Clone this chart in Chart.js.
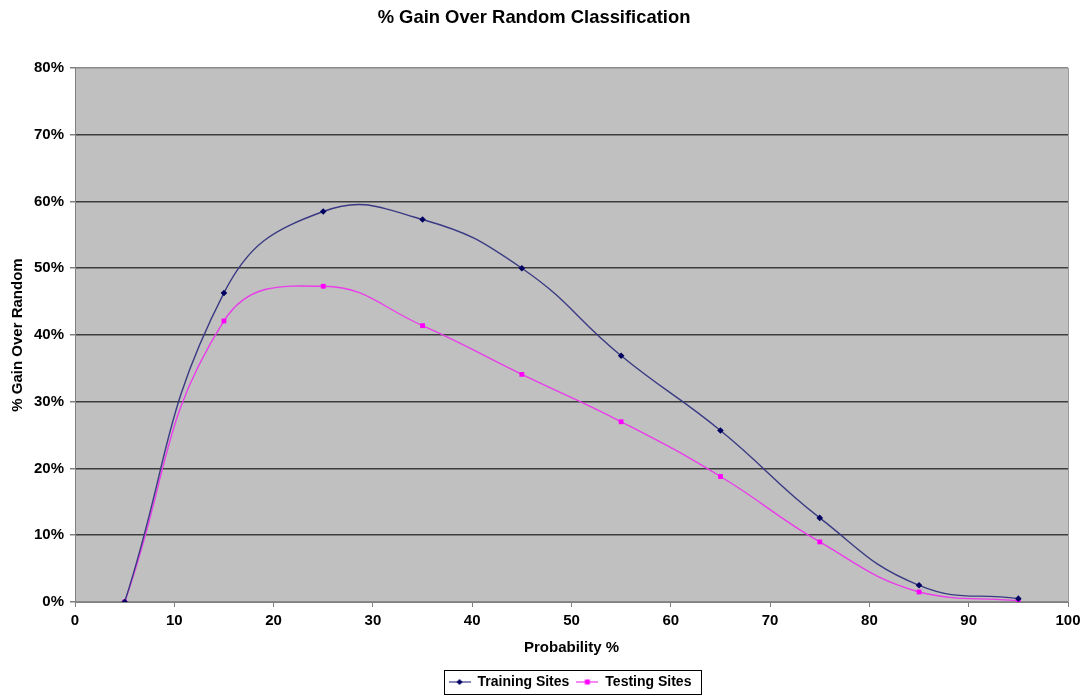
<!DOCTYPE html>
<html lang="en">
<head>
    <meta charset="UTF-8">
    <title>% Gain Over Random Classification</title>
    <style>
        body { margin: 0; background: #fff; overflow: hidden; }
        #wrap { width: 1086px; height: 695px; }
        canvas { display: block; }
    </style>
</head>
<body>
<div id="wrap"><canvas id="gainChart" width="1086" height="695"></canvas></div>

<script src="https://cdn.jsdelivr.net/npm/chart.js"></script>
<script>
    // probability bins (x) and % gain for each site group
    const probability = [5, 15, 25, 35, 45, 55, 65, 75, 85, 95];
    const trainingGain = [0, 46.3, 58.5, 57.3, 50.0, 36.9, 25.7, 12.6, 2.5, 0.5];
    const testingGain = [0, 42.1, 47.3, 41.4, 34.1, 27.0, 18.8, 9.0, 1.5, 0.2];
    const xTicks = [0, 10, 20, 30, 40, 50, 60, 70, 80, 90, 100];
    const yTicks = [0, 10, 20, 30, 40, 50, 60, 70, 80];

    const FONT = "'Liberation Sans', Arial, Helvetica, sans-serif";
    const TRAIN_LINE = '#3a3a84';
    const TRAIN_MARK = '#000060';
    const TEST_LINE = '#ea3cea';
    const TEST_MARK = '#ff00ff';

    function toPoints(values) {
        return probability.map((p, i) => ({ x: p, y: values[i] }));
    }

    // small "line with marker" swatch for the legend
    function legendSwatch(lineColor, markColor, diamond) {
        const c = document.createElement('canvas');
        c.width = 22; c.height = 12;
        const g = c.getContext('2d');
        g.strokeStyle = lineColor;
        g.lineWidth = 1.2;
        g.beginPath(); g.moveTo(0, 6); g.lineTo(22, 6); g.stroke();
        g.fillStyle = markColor;
        if (diamond) {
            g.beginPath(); g.moveTo(11, 3); g.lineTo(14, 6); g.lineTo(11, 9); g.lineTo(8, 6); g.closePath(); g.fill();
        } else {
            g.fillRect(8.5, 3.5, 5, 5);
        }
        return c;
    }

    // grey plot area, legend centred under the plot, frame around the legend
    const chartDecor = {
        id: 'chartDecor',
        afterUpdate(chart) {
            const lg = chart.legend;
            if (!lg || !lg.legendHitBoxes.length) return;
            const a = chart.chartArea;
            const boxes = lg.legendHitBoxes;
            const l = Math.min(...boxes.map(b => b.left));
            const r = Math.max(...boxes.map(b => b.left + b.width));
            const dx = Math.round((a.left + a.right) / 2 - (l + r) / 2 - 2);
            const dy = 4;
            lg.left += dx; lg.right += dx;
            lg.top += dy; lg.bottom += dy;
            boxes.forEach(b => { b.left += dx; b.top += dy; });
        },
        beforeDraw(chart) {
            const { ctx, chartArea: a } = chart;
            ctx.save();
            ctx.fillStyle = '#c0c0c0';
            ctx.fillRect(a.left, a.top, a.right - a.left, a.bottom - a.top);
            ctx.strokeStyle = '#9a9a9a';
            ctx.lineWidth = 1;
            ctx.beginPath();
            ctx.moveTo(a.right + 0.5, a.top);
            ctx.lineTo(a.right + 0.5, a.bottom);
            ctx.stroke();
            ctx.restore();
        },
        afterDraw(chart) {
            const boxes = chart.legend && chart.legend.legendHitBoxes;
            if (!boxes || !boxes.length) return;
            const left = Math.min(...boxes.map(b => b.left)) - 5;
            const right = Math.max(...boxes.map(b => b.left + b.width)) + 9;
            const top = Math.min(...boxes.map(b => b.top)) - 5;
            const bottom = Math.max(...boxes.map(b => b.top + b.height)) + 5;
            const ctx = chart.ctx;
            ctx.save();
            ctx.strokeStyle = '#000';
            ctx.lineWidth = 1;
            ctx.strokeRect(Math.round(left) + 0.5, Math.round(top) + 0.5, Math.round(right - left), Math.round(bottom - top));
            ctx.restore();
        }
    };

    const ctx = document.getElementById('gainChart').getContext('2d');
    new Chart(ctx, {
        type: 'line',
        data: {
            datasets: [{
                label: 'Training Sites',
                data: toPoints(trainingGain),
                borderColor: TRAIN_LINE,
                borderWidth: 1.4,
                backgroundColor: TRAIN_MARK,
                pointStyle: 'rectRot',
                pointRadius: 3.3,
                pointBorderWidth: 0,
                pointBackgroundColor: TRAIN_MARK,
                tension: 0.45,
                fill: false
            }, {
                label: 'Testing Sites',
                data: toPoints(testingGain),
                borderColor: TEST_LINE,
                borderWidth: 1.4,
                backgroundColor: TEST_MARK,
                pointStyle: 'rect',
                pointRadius: 3.4,
                pointBorderWidth: 0,
                pointBackgroundColor: TEST_MARK,
                tension: 0.45,
                fill: false
            }]
        },
        options: {
            responsive: false,
            animation: false,
            devicePixelRatio: 1,
            layout: { padding: { left: 0, right: 18, top: 0, bottom: 0 } },
            plugins: {
                title: {
                    display: true,
                    text: '% Gain Over Random Classification',
                    color: '#000',
                    font: { family: FONT, size: 18.4, weight: 'bold' },
                    padding: { top: 7, bottom: 38.9 }
                },
                legend: {
                    position: 'bottom',
                    labels: {
                        color: '#000',
                        font: { family: FONT, size: 14, weight: 'bold' },
                        usePointStyle: true,
                        pointStyleWidth: 22,
                        padding: 7,
                        generateLabels(chart) {
                            return chart.data.datasets.map((ds, i) => ({
                                text: ds.label,
                                datasetIndex: i,
                                pointStyle: legendSwatch(ds.borderColor, ds.pointBackgroundColor, i === 0),
                                fillStyle: ds.pointBackgroundColor,
                                strokeStyle: ds.borderColor,
                                lineWidth: 0,
                                fontColor: '#000',
                                hidden: false
                            }));
                        }
                    }
                },
                tooltip: { enabled: false }
            },
            scales: {
                x: {
                    type: 'linear',
                    min: 0,
                    max: 100,
                    afterFit(scale) { scale.height = 62; },
                    afterBuildTicks(scale) { scale.ticks = xTicks.map(v => ({ value: v })); },
                    ticks: {
                        color: '#000',
                        font: { family: FONT, size: 15, weight: 'bold' },
                        padding: 5,
                        maxRotation: 0
                    },
                    grid: {
                        drawOnChartArea: false,
                        drawTicks: true,
                        tickLength: 5,
                        color: '#808080'
                    },
                    border: { display: true, color: '#808080', width: 1 },
                    title: {
                        display: true,
                        text: 'Probability %',
                        color: '#000',
                        font: { family: FONT, size: 15, weight: 'bold' },
                        padding: { top: 0, bottom: 7 }
                    }
                },
                y: {
                    min: 0,
                    max: 80,
                    afterFit(scale) { scale.width = 75; },
                    afterBuildTicks(scale) { scale.ticks = yTicks.map(v => ({ value: v })); },
                    ticks: {
                        color: '#000',
                        font: { family: FONT, size: 15, weight: 'bold' },
                        padding: 6,
                        callback: v => v + '%'
                    },
                    grid: {
                        tickLength: 5,
                        lineWidth: 1.5,
                        color: c => (c.tick && (c.tick.value === 0 || c.tick.value === 80)) ? '#8a8a8a' : '#3c3c3c',
                        tickColor: '#808080'
                    },
                    border: { display: true, color: '#808080', width: 1 },
                    title: {
                        display: true,
                        text: '% Gain Over Random',
                        color: '#000',
                        font: { family: FONT, size: 15, weight: 'bold' },
                        padding: { top: 9, bottom: 0 }
                    }
                }
            }
        },
        plugins: [chartDecor]
    });
</script>
</body>
</html>
